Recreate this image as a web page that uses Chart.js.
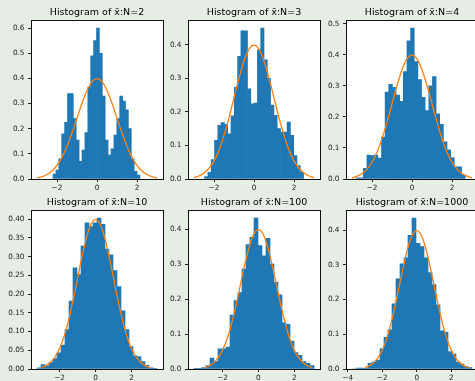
<!DOCTYPE html>
<html><head><meta charset="utf-8">
<script src="https://cdn.jsdelivr.net/npm/chart.js@4.4.1/dist/chart.umd.min.js"></script>
<style>
html,body{margin:0;padding:0;background:#e6ede5;width:475px;height:381px;overflow:hidden;position:relative}
canvas{position:absolute}
</style></head><body>
<canvas id="c0"></canvas><canvas id="c1"></canvas><canvas id="c2"></canvas>
<canvas id="c3"></canvas><canvas id="c4"></canvas><canvas id="c5"></canvas>
<script>
// ---- data ----
const sampleSizes = [2, 3, 4, 10, 100, 1000];
const titles = sampleSizes.map(n => 'Histogram of x\u0304:N=' + n);
// histogram bin range (lowest and highest edge), 30 equal bins each
const binLo = [-2.2, -2.47, -2.8, -3.25, -3.595, -3.75];
const binHi = [2.15, 2.48, 2.66, 3.41, 3.10, 3.2];
const densityN2 = [0.02,0.035,0.08,0.18,0.225,0.34,0.34,0.24,0.155,0.07,0.115,0.185,0.365,0.49,0.55,0.6,0.5,0.33,0.155,0.095,0.12,0.175,0.24,0.33,0.31,0.275,0.2,0.08,0.03,0.016];
const densityN3 = [0.007,0.02,0.058,0.115,0.16,0.168,0.163,0.135,0.188,0.273,0.366,0.442,0.442,0.269,0.224,0.226,0.385,0.45,0.355,0.30,0.22,0.19,0.15,0.14,0.14,0.17,0.13,0.07,0.04,0.02];
const densityN4 = [0.004,0.004,0.034,0.077,0.075,0.077,0.067,0.135,0.28,0.305,0.295,0.27,0.25,0.346,0.445,0.486,0.378,0.32,0.263,0.22,0.30,0.33,0.21,0.176,0.12,0.094,0.069,0.039,0.039,0.013];
const densityN10 = [0.003,0.012,0.008,0.017,0.028,0.043,0.064,0.105,0.181,0.27,0.252,0.328,0.39,0.38,0.39,0.403,0.386,0.32,0.305,0.263,0.22,0.155,0.105,0.06,0.035,0.033,0.02,0.01,0.003,0.002];
const densityN100 = [0.0013,0.0013,0.004,0.01,0.031,0.021,0.058,0.058,0.063,0.154,0.196,0.219,0.286,0.356,0.377,0.432,0.353,0.324,0.374,0.30,0.248,0.212,0.133,0.128,0.08,0.047,0.039,0.021,0.016,0.01];
const densityN1000 = [0.0,0.003,0.003,0.002,0.016,0.02,0.026,0.058,0.091,0.113,0.188,0.26,0.303,0.32,0.385,0.435,0.362,0.353,0.32,0.278,0.243,0.185,0.11,0.106,0.05,0.043,0.02,0.014,0.008,0.004];
const densities = [densityN2, densityN3, densityN4, densityN10, densityN100, densityN1000];
// orange reference curve
const curveX = [-3,-2.75,-2.5,-2.25,-2,-1.75,-1.5,-1.25,-1,-0.75,-0.5,-0.25,0,0.25,0.5,0.75,1,1.25,1.5,1.75,2,2.25,2.5,2.75,3];
const curveY = [0.004,0.009,0.018,0.032,0.054,0.086,0.130,0.183,0.242,0.301,0.352,0.387,0.399,0.387,0.352,0.301,0.242,0.183,0.130,0.086,0.054,0.032,0.018,0.009,0.004];
// tick labels
const xTicksDefault = [-2, 0, 2];
const xTicksWide = [-4, -2, 0, 2];
const xTicks = [xTicksDefault, xTicksDefault, xTicksDefault, xTicksDefault, xTicksDefault, xTicksWide];
const yTicksA = [0, 0.1, 0.2, 0.3, 0.4, 0.5, 0.6];
const yTicksB = [0, 0.1, 0.2, 0.3, 0.4];
const yTicksC = [0, 0.1, 0.2, 0.3, 0.4, 0.5];
const yTicksD = [0, 0.05, 0.10, 0.15, 0.20, 0.25, 0.30, 0.35, 0.40];
const yTicks = [yTicksA, yTicksB, yTicksC, yTicksD, yTicksB, yTicksB];
const yDecimals = [1, 1, 1, 2, 1, 1];

// ---- layout ----
const colLeft = [31, 188, 346];
const rowTop = [20.5, 210.5];
const AX_W = 132, AX_H = 158.5, YAX_W = 31, XAX_H = 14, PAD_R = 6, TITLE_SPACE = 20.5;
const FONT = "'DejaVu Sans', sans-serif";

const framePlugin = {
  id: 'frame',
  beforeDraw(chart) {
    const {ctx, chartArea: a} = chart;
    ctx.save(); ctx.fillStyle = '#ffffff';
    ctx.fillRect(a.left, a.top, a.right - a.left, a.bottom - a.top);
    ctx.restore();
  },
  afterDraw(chart) {
    const {ctx, chartArea: a} = chart;
    ctx.save(); ctx.strokeStyle = '#111'; ctx.lineWidth = 1;
    const l = Math.floor(a.left) + 0.5, t = Math.floor(a.top) + 0.5;
    const r = Math.floor(a.right) + 0.5, b = Math.floor(a.bottom) + 0.5;
    ctx.strokeRect(l, t, r - l, b - t);
    ctx.restore();
  }
};

function fmtX(v) { return v < 0 ? '\u2212' + Math.abs(v) : String(v); }

for (let i = 0; i < 6; i++) {
  const col = i % 3, row = Math.floor(i / 3);
  const cv = document.getElementById('c' + i);
  const W = YAX_W + AX_W + PAD_R, H = TITLE_SPACE + AX_H + XAX_H;
  cv.width = W; cv.height = H;
  cv.style.left = (colLeft[col] - YAX_W) + 'px';
  cv.style.top = (rowTop[row] - TITLE_SPACE) + 'px';

  const lo = binLo[i], hi = binHi[i], dens = densities[i];
  const bw = (hi - lo) / dens.length;
  const bars = dens.map((d, k) => ({x: lo + (k + 0.5) * bw, y: d}));
  const curve = curveX.map((x, k) => ({x, y: curveY[k]}));
  const dLo = Math.min(lo, curveX[0]), dHi = Math.max(hi, curveX[curveX.length - 1]);
  const m = 0.05 * (dHi - dLo);
  const yMax = Math.max(Math.max(...dens), Math.max(...curveY)) * 1.05;

  new Chart(cv, {
    type: 'bar',
    data: {
      datasets: [
        {type: 'line', data: curve, borderColor: '#ff7f0e', borderWidth: 1.3, pointRadius: 0,
         cubicInterpolationMode: 'monotone', fill: false, order: 0},
        {type: 'bar', data: bars, backgroundColor: '#1f77b4', borderWidth: 0,
         barPercentage: 1, categoryPercentage: 1, grouped: false, order: 1}
      ]
    },
    options: {
      responsive: false, animation: false, devicePixelRatio: 1,
      layout: {padding: {top: 6.4, right: PAD_R, bottom: 0, left: 0}},
      plugins: {
        legend: {display: false}, tooltip: {enabled: false},
        title: {display: true, text: titles[i], fullSize: false, color: '#000',
                font: {family: FONT, size: 9.5, weight: 'normal', lineHeight: 1.2},
                padding: {top: 0, bottom: 2.7}}
      },
      scales: {
        x: {
          type: 'linear', min: dLo - m, max: dHi + m, offset: false, bounds: 'data',
          afterBuildTicks: s => { s.ticks = xTicks[i].map(v => ({value: v})); },
          afterFit: s => { s.height = XAX_H; },
          grid: {drawOnChartArea: false, drawTicks: true, tickLength: 3, color: '#222', offset: false},
          border: {display: false},
          ticks: {autoSkip: false, maxRotation: 0, padding: 1.5, color: '#222',
                  font: {family: FONT, size: 7.3}, callback: v => fmtX(v)}
        },
        y: {
          type: 'linear', min: 0, max: yMax, bounds: 'data',
          afterBuildTicks: s => { s.ticks = yTicks[i].map(v => ({value: v})); },
          afterFit: s => { s.width = YAX_W; },
          grid: {drawOnChartArea: false, drawTicks: true, tickLength: 3, color: '#222'},
          border: {display: false},
          ticks: {autoSkip: false, padding: 3.5, color: '#222',
                  font: {family: FONT, size: 7.3}, callback: v => Number(v).toFixed(yDecimals[i])}
        }
      }
    },
    plugins: [framePlugin]
  });
}
</script>
</body></html>
